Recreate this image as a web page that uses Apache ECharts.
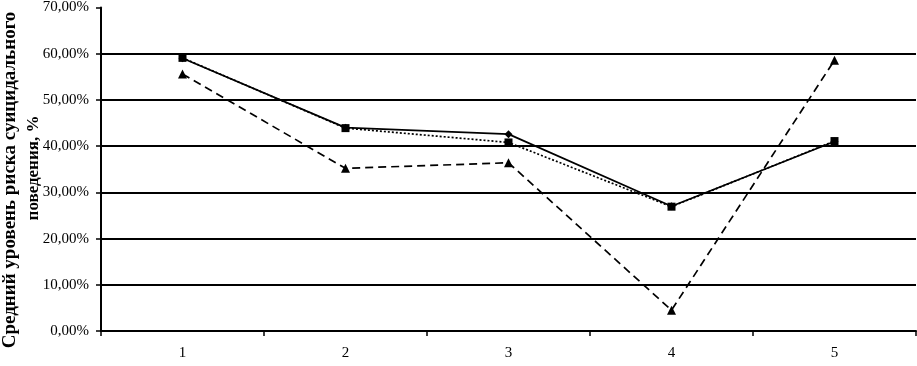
<!DOCTYPE html>
<html>
<head>
<meta charset="utf-8">
<script src="https://cdn.jsdelivr.net/npm/echarts@6/dist/echarts.min.js"></script>
<style>
html,body{margin:0;padding:0;background:#fff;}
#chart{width:917px;height:366px;}
</style>
</head>
<body>
<div id="chart"></div>
<script>
var categories = ['1', '2', '3', '4', '5'];
var seriesSolid = [0.59, 0.44, 0.426, 0.27, 0.41];
var seriesDotted = [0.591, 0.439, 0.408, 0.269, 0.411];
var seriesDashed = [0.556, 0.352, 0.364, 0.045, 0.586];
var yTickValues = [0, 0.1, 0.2, 0.3, 0.4, 0.5, 0.6, 0.7];
var yAxisTitle = ['Средний уровень риска суицидального', 'поведения, %'];

var chart = echarts.init(document.getElementById('chart'));
var font = 'Liberation Serif';
function titleLine(text, x, y, size) {
  return {
    type: 'text', x: x, y: y, rotation: Math.PI / 2,
    style: {
      text: text, fontFamily: font, fontSize: size, fontWeight: 'bold',
      fill: '#000', align: 'center', verticalAlign: 'middle'
    }
  };
}
chart.setOption({
  animation: false,
  backgroundColor: '#fff',
  grid: {left: 101, right: 1, top: 4, bottom: 35, containLabel: false},
  xAxis: {
    type: 'category',
    data: categories,
    boundaryGap: true,
    axisLine: {lineStyle: {color: '#000', width: 2}},
    axisTick: {show: true, length: 5, inside: false, alignWithLabel: false, lineStyle: {color: '#000', width: 1.5}},
    axisLabel: {color: '#000', fontFamily: font, fontSize: 15, margin: 15}
  },
  yAxis: {
    type: 'value',
    min: yTickValues[0],
    max: yTickValues[yTickValues.length - 1],
    interval: 0.1,
    axisLine: {show: true, lineStyle: {color: '#000', width: 2}},
    axisTick: {show: true, length: 5, lineStyle: {color: '#000', width: 1.5}},
    axisLabel: {
      color: '#000', fontFamily: font, fontSize: 15, margin: 12,
      formatter: function (v) { return (v * 100).toFixed(2).replace('.', ',') + '%'; }
    },
    splitLine: {show: true, showMaxLine: false, lineStyle: {color: '#000', width: 2}}
  },
  graphic: [
    titleLine(yAxisTitle[0], 10, 180, 19),
    titleLine(yAxisTitle[1], 34, 168, 17)
  ],
  series: [
    {
      type: 'line', data: seriesSolid, symbol: 'diamond', symbolSize: 8,
      lineStyle: {color: '#000', width: 1.7, type: 'solid'},
      itemStyle: {color: '#000'}, z: 3
    },
    {
      type: 'line', data: seriesDotted, symbol: 'rect', symbolSize: 8,
      lineStyle: {color: '#000', width: 1.7, type: [2, 2]},
      itemStyle: {color: '#000'}, z: 4
    },
    {
      type: 'line', data: seriesDashed, symbol: 'triangle', symbolSize: 9,
      lineStyle: {color: '#000', width: 1.7, type: [8, 5]},
      itemStyle: {color: '#000'}, z: 5
    }
  ]
});
</script>
</body>
</html>
